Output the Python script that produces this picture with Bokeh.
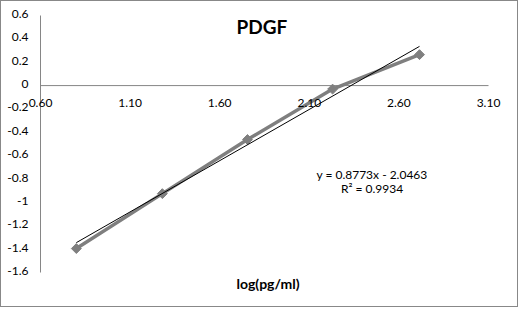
from bokeh.plotting import figure
from bokeh.models import Range1d, Label
from bokeh.embed import file_html
from bokeh.resources import INLINE
import math

# data
log_conc = [0.80, 1.28, 1.755, 2.23, 2.715]
response = [-1.395, -0.925, -0.462, -0.03, 0.265]
slope = 0.8773
intercept = -2.0463
r2 = 0.9934
x_ticks = [0.6, 1.1, 1.6, 2.1, 2.6, 3.1]
x_tick_labels = ["0.60", "1.10", "1.60", "2.10", "2.60", "3.10"]
y_ticks = [-1.6, -1.4, -1.2, -1.0, -0.8, -0.6, -0.4, -0.2, 0.0, 0.2, 0.4, 0.6]
y_tick_labels = ["-1.6", "-1.4", "-1.2", "-1", "-0.8", "-0.6", "-0.4", "-0.2", "0", "0.2", "0.4", "0.6"]
title_text = "PDGF"
x_title = "log(pg/ml)"

FONT = "Lato"
GRAY = "#868686"

# the frame covers the whole canvas; axes are drawn by hand so that end labels are not cut
W, H = 518, 307
x0_px, x1_px = 39, 487     # canvas px of x = 0.6 and 3.1
y0_px, y1_px = 14, 271     # canvas px of y = 0.6 and -1.6
xs = (x_ticks[-1] - x_ticks[0]) / (x1_px - x0_px)
ys = (y_ticks[-1] - y_ticks[0]) / (y1_px - y0_px)
x_range = Range1d(x_ticks[0] - x0_px * xs, x_ticks[-1] + (W - x1_px) * xs)
y_range = Range1d(y_ticks[0] - (H - y1_px) * ys, y_ticks[-1] + y0_px * ys)

p = figure(width=W, height=H, output_backend="svg", toolbar_location=None,
           x_range=x_range, y_range=y_range, x_axis_location=None, y_axis_location=None,
           min_border=0, styles={"border": "1.5px solid #888888"})
p.xgrid.visible = False
p.ygrid.visible = False
p.outline_line_color = None
p.background_fill_color = "white"
p.border_fill_color = "white"

# axis lines
p.line([x_ticks[0], x_ticks[0]], [y_ticks[0], y_ticks[-1]], line_color=GRAY, line_width=1)
p.line([x_ticks[0], x_ticks[-1]], [0, 0], line_color=GRAY, line_width=1)

# tick labels
for tv, tl in zip(y_ticks, y_tick_labels):
    p.add_layout(Label(x=x_ticks[0], y=tv + 1.5 * ys, x_offset=-12, text=tl, text_align="right",
                       text_baseline="middle", text_font=FONT, text_font_size="12px",
                       text_color="black"))
for tv, tl in zip(x_ticks, x_tick_labels):
    p.add_layout(Label(x=tv, y=-0.145, text=tl, text_align="center",
                       text_baseline="alphabetic", text_font=FONT, text_font_size="12px",
                       text_color="black"))

# series
p.line(log_conc, response, line_color="#7f7f7f", line_width=3.5)
p.scatter(log_conc, response, marker="square", size=7, angle=math.pi / 4,
          fill_color="#7f7f7f", line_color="#7f7f7f")

# linear trendline
tx = [log_conc[0], log_conc[-1]]
ty = [slope * v + intercept for v in tx]
p.line(tx, ty, line_color="black", line_width=1)

# texts
p.add_layout(Label(x=1.835, y=0.505, text=title_text, text_align="center",
                   text_baseline="alphabetic", text_font=FONT, text_font_style="bold",
                   text_font_size="19px", text_color="black"))
p.add_layout(Label(x=2.45, y=-0.758, text=f"y = {slope}x - {abs(intercept)}", text_align="center",
                   text_baseline="alphabetic", text_font=FONT, text_font_size="12px",
                   text_color="black"))
p.add_layout(Label(x=2.45, y=-0.882, text=f"R\u00b2 = {r2}", text_align="center",
                   text_baseline="alphabetic", text_font=FONT, text_font_size="12px",
                   text_color="black"))
p.add_layout(Label(x=1.87, y=-1.697, text=x_title, text_align="center",
                   text_baseline="alphabetic", text_font=FONT, text_font_style="bold",
                   text_font_size="14px", text_color="black"))

open("out.html", "w").write(file_html(p, INLINE))
